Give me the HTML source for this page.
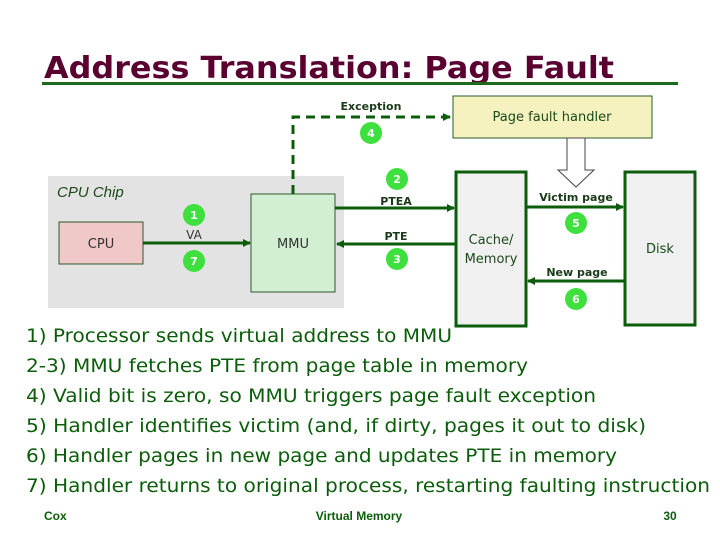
<!DOCTYPE html>
<html><head><meta charset="utf-8"><style>html,body{margin:0;padding:0;background:#fff}svg{display:block}</style></head>
<body>
<svg width="720" height="540" viewBox="0 0 720 540" xmlns="http://www.w3.org/2000/svg" font-family="'DejaVu Sans','Liberation Sans',sans-serif">
<defs>
<marker id="ah" markerWidth="8" markerHeight="8" refX="7" refY="4" orient="auto" markerUnits="userSpaceOnUse"><path d="M0,0 L8,4 L0,8 z" fill="#0b5d0b"/></marker>
</defs>
<text x="44" y="78" font-size="30" font-weight="bold" fill="#5a0030" textLength="570" lengthAdjust="spacingAndGlyphs">Address Translation: Page Fault</text>
<rect x="42" y="82" width="636" height="3" fill="#1d6a1d"/>

<rect x="48" y="176" width="296" height="132" fill="#e3e3e3"/>
<text x="57" y="197" font-size="15" font-style="italic" fill="#1a4a1a" font-family="'Liberation Sans',sans-serif">CPU Chip</text>
<rect x="59" y="222" width="84" height="42" fill="#f0c8c8" stroke="#2b5a2b" stroke-width="1"/>
<text x="101" y="248" font-size="13" fill="#333" text-anchor="middle">CPU</text>
<rect x="251" y="194" width="84" height="98" fill="#d3efd3" stroke="#2b5a2b" stroke-width="1"/>
<text x="293" y="248" font-size="13" fill="#333" text-anchor="middle">MMU</text>

<line x1="143" y1="243" x2="250" y2="243" stroke="#0b5d0b" stroke-width="3" marker-end="url(#ah)"/>
<text x="194" y="239" font-size="12" fill="#333" text-anchor="middle">VA</text>

<polyline points="293,194 293,117 450,117" fill="none" stroke="#0b5d0b" stroke-width="3" stroke-dasharray="9,6" marker-end="url(#ah)"/>
<text x="371" y="110" font-size="11" fill="#1a3a1a" text-anchor="middle" font-weight="bold">Exception</text>

<rect x="453" y="96" width="199" height="42" fill="#f5f2c0" stroke="#2b5a2b" stroke-width="1"/>
<text x="552" y="121" font-size="13" fill="#1a4a1a" text-anchor="middle">Page fault handler</text>

<polygon points="567,138 585,138 585,170 594,170 576,187 558,170 567,170" fill="#fff" stroke="#444" stroke-width="1"/>

<rect x="456" y="172" width="70" height="154" fill="#f0f0f0" stroke="#0b5d0b" stroke-width="3"/>
<text x="491" y="244" font-size="13" fill="#1a4a1a" text-anchor="middle">Cache/</text>
<text x="491" y="263" font-size="13" fill="#1a4a1a" text-anchor="middle">Memory</text>
<rect x="625" y="172" width="70" height="153" fill="#f0f0f0" stroke="#0b5d0b" stroke-width="3"/>
<text x="660" y="253" font-size="13" fill="#1a4a1a" text-anchor="middle">Disk</text>

<line x1="335" y1="208" x2="454" y2="208" stroke="#0b5d0b" stroke-width="3" marker-end="url(#ah)"/>
<text x="396" y="205" font-size="11" fill="#1a3a1a" text-anchor="middle" font-weight="bold">PTEA</text>
<line x1="455" y1="244" x2="337" y2="244" stroke="#0b5d0b" stroke-width="3" marker-end="url(#ah)"/>
<text x="396" y="240" font-size="11" fill="#1a3a1a" text-anchor="middle" font-weight="bold">PTE</text>
<line x1="526" y1="207" x2="623" y2="207" stroke="#0b5d0b" stroke-width="3" marker-end="url(#ah)"/>
<text x="576" y="201" font-size="11" fill="#1a3a1a" text-anchor="middle" font-weight="bold">Victim page</text>
<line x1="624" y1="281" x2="528" y2="281" stroke="#0b5d0b" stroke-width="3" marker-end="url(#ah)"/>
<text x="577" y="276" font-size="11" fill="#1a3a1a" text-anchor="middle" font-weight="bold">New page</text>

<g fill="#3ee03e" font-size="11" font-weight="bold" text-anchor="middle">
<circle cx="194" cy="215" r="11"/><circle cx="194" cy="261" r="11"/><circle cx="371" cy="133" r="11"/>
<circle cx="397" cy="179" r="11"/><circle cx="397" cy="259" r="11"/><circle cx="576" cy="223" r="11"/><circle cx="576" cy="299" r="11"/>
</g>
<g fill="#fff" font-size="11" font-weight="bold" text-anchor="middle">
<text x="194" y="219">1</text><text x="194" y="265">7</text><text x="371" y="137">4</text>
<text x="397" y="183">2</text><text x="397" y="263">3</text><text x="576" y="227">5</text><text x="576" y="303">6</text>
</g>

<g fill="#0b5d0b" font-size="19">
<text x="26" y="342" textLength="426" lengthAdjust="spacingAndGlyphs">1) Processor sends virtual address to MMU</text>
<text x="26" y="372" textLength="502" lengthAdjust="spacingAndGlyphs">2-3) MMU fetches PTE from page table in memory</text>
<text x="26" y="402" textLength="570" lengthAdjust="spacingAndGlyphs">4) Valid bit is zero, so MMU triggers page fault exception</text>
<text x="26" y="432" textLength="620" lengthAdjust="spacingAndGlyphs">5) Handler identifies victim (and, if dirty, pages it out to disk)</text>
<text x="26" y="462" textLength="591" lengthAdjust="spacingAndGlyphs">6) Handler pages in new page and updates PTE in memory</text>
<text x="26" y="492" textLength="684" lengthAdjust="spacingAndGlyphs">7) Handler returns to original process, restarting faulting instruction</text>
</g>
<g fill="#0b5d0b" font-size="12" font-weight="bold" font-family="'Liberation Sans',sans-serif">
<text x="44" y="520">Cox</text>
<text x="359" y="520" text-anchor="middle">Virtual Memory</text>
<text x="670" y="520" text-anchor="middle">30</text>
</g>
</svg>
</body></html>
